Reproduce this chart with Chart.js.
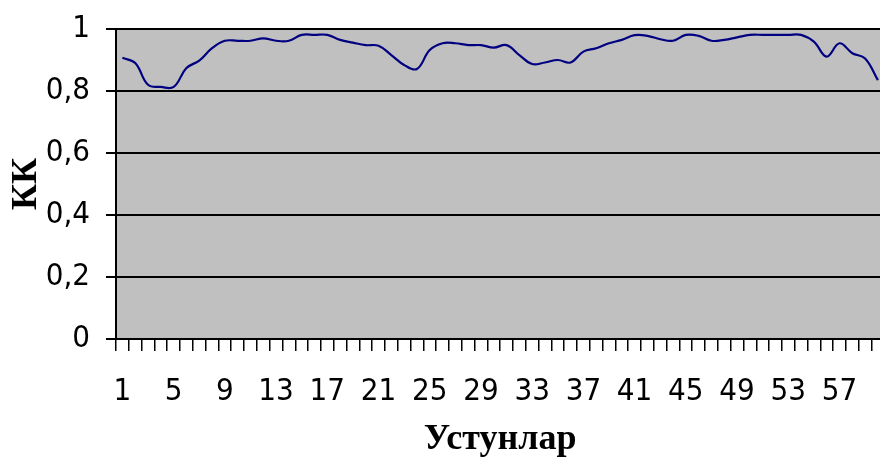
<!DOCTYPE html>
<html lang="uz">
<head>
    <meta charset="UTF-8">
    <title>КК</title>
    <script src="https://cdn.jsdelivr.net/npm/chart.js"></script>
    <style>
        html, body { margin: 0; padding: 0; background: #fff; overflow: hidden; }
        .chart-box { width: 900px; height: 460px; }
    </style>
</head>
<body>
    <div class="chart-box">
        <canvas id="kkChart"></canvas>
    </div>

    <script>
        // columns 1..60
        const columns = [];
        for (let i = 1; i <= 60; i++) columns.push(String(i));

        const kkValues = [
            0.907, 0.89, 0.82, 0.813, 0.813, 0.874, 0.898, 0.938, 0.962, 0.962,
            0.962, 0.97, 0.962, 0.962, 0.981, 0.981, 0.981, 0.965, 0.956, 0.948,
            0.946, 0.916, 0.884, 0.871, 0.932, 0.954, 0.954, 0.948, 0.948, 0.94,
            0.948, 0.916, 0.887, 0.892, 0.9, 0.892, 0.927, 0.938, 0.954, 0.965,
            0.98, 0.978, 0.967, 0.962, 0.981, 0.978, 0.962, 0.965, 0.973, 0.981,
            0.981, 0.981, 0.981, 0.981, 0.959, 0.911, 0.954, 0.922, 0.905, 0.835
        ];

        const yTicks = [0, 0.2, 0.4, 0.6, 0.8, 1];

        const labelFont = { family: "'DejaVu Sans Condensed', 'Liberation Sans Narrow', sans-serif", size: 31 };
        const titleFont = { family: "'Liberation Serif', 'DejaVu Serif', serif", size: 36, weight: 'bold', lineHeight: 1 };

        // grey plot area
        const plotBackground = {
            id: 'plotBackground',
            beforeDraw(chart) {
                const { ctx, chartArea: a } = chart;
                ctx.save();
                ctx.fillStyle = '#c0c0c0';
                ctx.fillRect(a.left, a.top, a.right - a.left, a.bottom - a.top);
                ctx.restore();
            }
        };

        new Chart(document.getElementById('kkChart'), {
            type: 'line',
            data: {
                labels: columns,
                datasets: [{
                    data: kkValues,
                    borderColor: '#000080',
                    borderWidth: 2.2,
                    pointRadius: 0,
                    tension: 0.4,
                    fill: false
                }]
            },
            options: {
                responsive: true,
                maintainAspectRatio: false,
                animation: false,
                layout: { padding: { top: 29, right: 12, left: 0, bottom: 0 } },
                plugins: {
                    legend: { display: false },
                    tooltip: { enabled: false }
                },
                scales: {
                    x: {
                        offset: true,
                        afterFit(scale) { scale.height = 121; },
                        grid: {
                            offset: true,
                            drawOnChartArea: false,
                            color: '#000',
                            lineWidth: 1.5,
                            tickLength: 12
                        },
                        border: { color: '#000', width: 2 },
                        ticks: {
                            autoSkip: false,
                            maxRotation: 0,
                            color: '#000',
                            font: labelFont,
                            padding: 22,
                            callback(value, index) {
                                return index % 4 === 0 ? columns[index] : '';
                            }
                        },
                        title: {
                            display: true,
                            text: 'Устунлар',
                            color: '#000',
                            font: titleFont,
                            padding: { top: 0, bottom: 2 }
                        }
                    },
                    y: {
                        min: 0,
                        max: 1,
                        afterFit(scale) {
                            scale.width = 116;
                            scale.paddingTop = 0;
                            scale.paddingBottom = 0;
                        },
                        afterBuildTicks(scale) {
                            scale.ticks = yTicks.map(v => ({ value: v }));
                        },
                        grid: {
                            color: '#000',
                            lineWidth: 2,
                            tickLength: 10
                        },
                        border: { color: '#000', width: 2 },
                        ticks: {
                            color: '#000',
                            font: labelFont,
                            padding: 16,
                            callback(value) {
                                return String(Math.round(value * 10) / 10).replace('.', ',');
                            }
                        },
                        title: {
                            display: true,
                            text: 'КК',
                            color: '#000',
                            font: titleFont,
                            padding: { top: 9, bottom: 0 }
                        }
                    }
                }
            },
            plugins: [plotBackground]
        });
    </script>
</body>
</html>
